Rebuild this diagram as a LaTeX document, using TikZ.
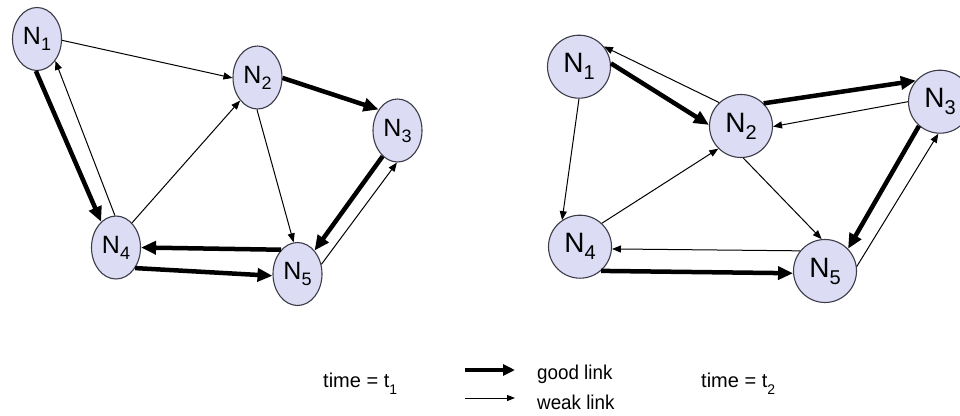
\documentclass[tikz,border=0pt]{standalone}
\usepackage{fontspec}
\usepackage{graphicx}
\setmainfont{Liberation Sans}
\usetikzlibrary{arrows.meta,shapes.geometric}

\definecolor{nodefill}{RGB}{220,220,244}
\definecolor{nodeline}{RGB}{60,60,72}

% node labels: N with a lowered index
\newcommand\lblL[1]{N\raisebox{-6pt}{\fontsize{18}{18}\selectfont #1}}
\newcommand\lblR[1]{N\raisebox{-7pt}{\fontsize{20}{20}\selectfont #1}}
\newcommand\timesub[1]{time = t\raisebox{-7pt}{\fontsize{14}{14}\selectfont #1}}
\newcommand\keytext[1]{\scalebox{0.94}[1]{#1}}

\tikzset{
  oval/.style={ellipse, draw=nodeline, fill=nodefill, line width=1.1pt,
    minimum width=49pt, minimum height=63pt, inner sep=0pt,
    font=\fontsize{25}{25}\selectfont},
  disc/.style={circle, draw=nodeline, fill=nodefill, line width=1.1pt,
    minimum size=63pt, inner sep=0pt, font=\fontsize{28}{28}\selectfont},
  good/.style={line width=4.5pt, -{Triangle[length=15pt,width=13pt]}},
  weak/.style={line width=1pt, -{Triangle[length=9pt,width=7pt]}},
  goodkey/.style={line width=4pt, -{Triangle[length=12pt,width=11pt]}},
  weakkey/.style={line width=1pt, -{Triangle[length=8pt,width=6pt]}},
  caption/.style={anchor=base west, inner sep=0pt, font=\fontsize{20}{20}\selectfont},
}

\begin{document}
\begin{tikzpicture}[x=1pt, y=-1pt]
  \useasboundingbox[fill=white] (0,0) rectangle (960,415);

  % ---- network at time t1 ----
  \node[oval] (L1) at (37,39)      {\lblL{1}};
  \node[oval] (L2) at (257.5,77.5) {\lblL{2}};
  \node[oval] (L3) at (397.5,130.5){\lblL{3}};
  \node[oval] (L4) at (116,247.5)  {\lblL{4}};
  \node[oval] (L5) at (297.5,274)  {\lblL{5}};

  \draw[weak] (L1.-3)  -- (L2.181);
  \draw[good] (L2.-1)  -- (L3.132);
  \draw[weak] (L4.57)  -- (L2.233);
  \draw[weak] (L2.-91) -- (L5.97);
  \draw[good] (L1.-92) -- (L4.120);
  \draw[weak] (L4.92)  -- (L1.-50);
  \draw[good] (L3.240) -- (L5.54);
  \draw[weak] (L5.22)  -- (L3.269);
  \draw[good] (L5.124) -- (L4.0);
  \draw[good] (L4.-47) -- (L5.184);

  % ---- network at time t2 ----
  \node[disc] (R1) at (579,66.7)  {\lblR{1}};
  \node[disc] (R2) at (741,126)   {\lblR{2}};
  \node[disc] (R3) at (940,101.7) {\lblR{3}};
  \node[disc] (R4) at (580,246.7) {\lblR{4}};
  \node[disc] (R5) at (825,271)   {\lblR{5}};

  \draw[good] (R1.6)   -- (R2.178);
  \draw[weak] (R2.133) -- (R1.39);
  \draw[weak] (R1.-90) -- (R4.124);
  \draw[good] (R2.45)  -- (R3.139);
  \draw[weak] (R3.180) -- (R2.-1);
  \draw[weak] (R4.47)  -- (R2.225);
  \draw[weak] (R2.-86) -- (R5.96);
  \draw[good] (R3.229) -- (R5.44);
  \draw[weak] (R5.8)   -- (R3.267);
  \draw[weak] (R5.141) -- (R4.-4);
  \draw[good] (R4.-49) -- (R5.184);

  % ---- legend ----
  \node[caption] (T1) at (323,387) {\timesub{1}};
  \node[caption] (T2) at (701,387) {\timesub{2}};

  \coordinate (gs) at (465,370);
  \coordinate (ge) at (515,370);
  \coordinate (ws) at (465,398);
  \coordinate (we) at (515,398);
  \draw[goodkey] (gs) -- (ge);
  \draw[weakkey] (ws) -- (we);
  \node[caption] (GL) at (537,379) {\keytext{good link}};
  \node[caption] (WL) at (537,409) {\keytext{weak link}};
\end{tikzpicture}
\end{document}
